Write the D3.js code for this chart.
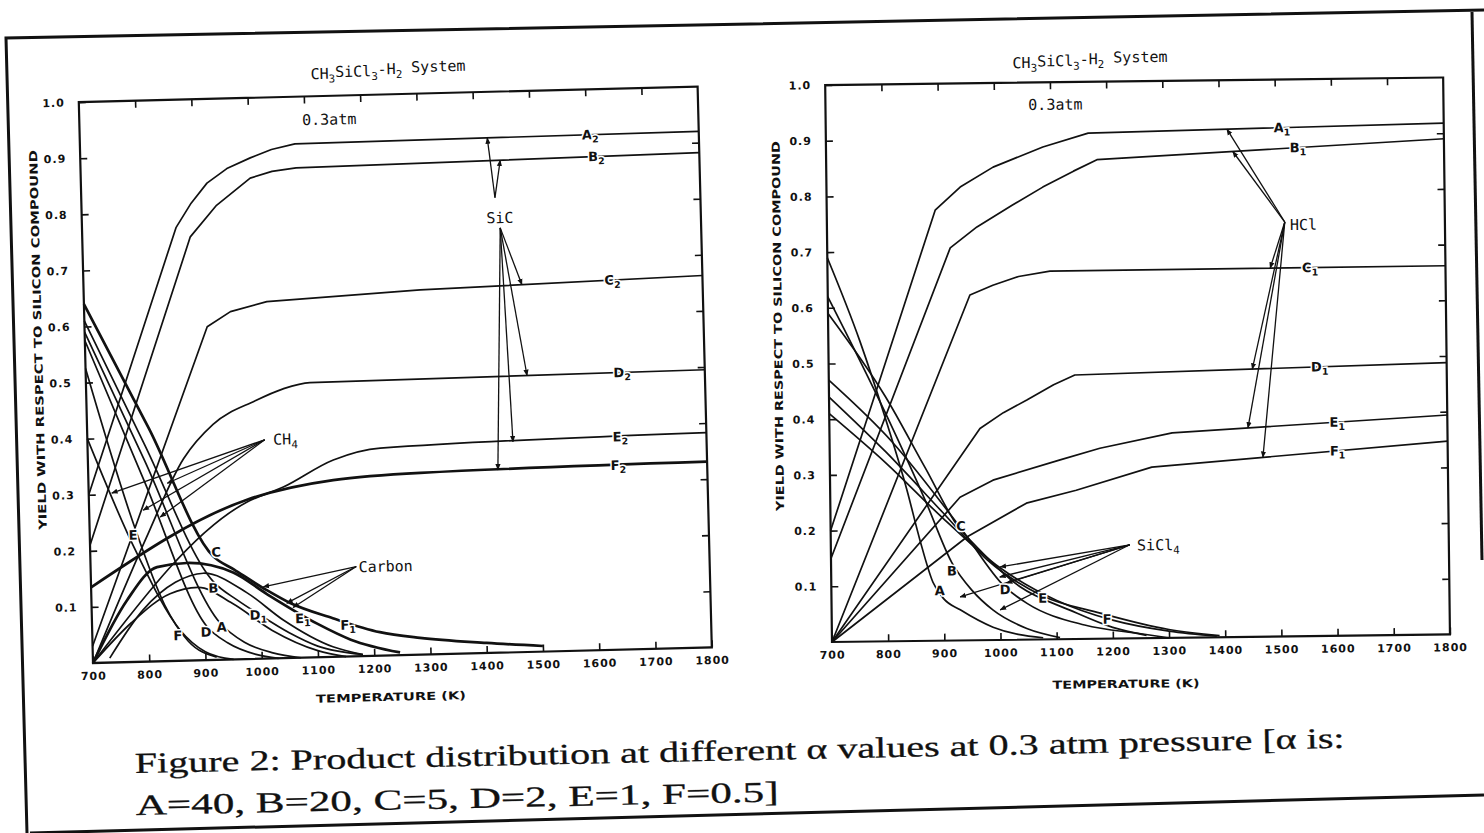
<!DOCTYPE html>
<html>
<head>
<meta charset="utf-8">
<title>Product distribution at 0.3 atm</title>
<script src="https://d3js.org/d3.v7.min.js"></script>
<style>
  body { margin: 0; background: #fff; }
  svg { display: block; }
  .curve { fill: none; stroke: #111; stroke-width: 1.7; stroke-linejoin: round; }
  .thick { stroke-width: 2.7; }
  .frame { fill: none; stroke: #111; stroke-width: 2.2; }
  .border { fill: none; stroke: #111; stroke-width: 3; }
  .ticklabel { font-family: "DejaVu Sans", sans-serif; font-weight: bold; font-size: 11px; fill: #111; letter-spacing: 1px; }
  .axtitle { font-family: "DejaVu Sans", sans-serif; font-weight: bold; font-size: 11px; fill: #111; }
  .note { font-family: "DejaVu Sans Mono", monospace; font-size: 15px; fill: #111; }
  .lab { font-family: "DejaVu Sans", sans-serif; font-weight: bold; font-size: 13px; fill: #111;
         stroke: #fff; stroke-width: 3px; paint-order: stroke; }
  .arrow { stroke: #111; stroke-width: 1.3; fill: none; }
  .caption { font-family: "Liberation Serif", serif; font-size: 29px; fill: #111; stroke: #111; stroke-width: 0.3px; }
</style>
</head>
<body>
<div id="chart"></div>
<script>
// ---- axes
const tempTicks = [700, 800, 900, 1000, 1100, 1200, 1300, 1400, 1500, 1600, 1700, 1800];
const yieldTicks = [0.1, 0.2, 0.3, 0.4, 0.5, 0.6, 0.7, 0.8, 0.9, 1.0];

// ---- left panel: SiC yield (subscript 2), [T (K), yield]
const sicA = [[700, 0.30], [867, 0.772], [895, 0.815], [924, 0.85], [960, 0.875], [1002, 0.893], [1040, 0.907], [1082, 0.916], [1800, 0.92]];
const sicB = [[700, 0.21], [892, 0.755], [940, 0.81], [1001, 0.857], [1040, 0.868], [1083, 0.873], [1800, 0.882]];
const sicC = [[700, 0.03], [918, 0.594], [960, 0.62], [1025, 0.636], [1298, 0.65], [1800, 0.663]];
const sicD = [[700, 0.0], [800, 0.22], [870, 0.36], [924, 0.42], [1000, 0.46], [1050, 0.48], [1098, 0.49], [1800, 0.495]];
const sicE = [[700, 0.0], [981, 0.28], [1046, 0.305], [1136, 0.351], [1220, 0.37], [1800, 0.383]];
const sicF = [[700, 0.135], [981, 0.284], [1135, 0.315], [1290, 0.324], [1800, 0.331]];
// left panel: falling curves
const fallC = [[700, 0.64], [810, 0.415], [918, 0.185], [955, 0.16], [1012, 0.122], [1053, 0.098], [1128, 0.069], [1211, 0.042], [1282, 0.03], [1400, 0.018], [1500, 0.01]];
const fallB = [[700, 0.61], [800, 0.39], [917, 0.14], [960, 0.105], [996, 0.08], [1050, 0.045], [1100, 0.02], [1180, 0.003]];
const fallA = [[700, 0.59], [800, 0.36], [928, 0.065], [970, 0.03], [1020, 0.01], [1070, 0.0]];
const fallD = [[700, 0.575], [800, 0.32], [904, 0.06], [940, 0.03], [990, 0.008], [1030, 0.0]];
const fallE = [[700, 0.525], [777, 0.25], [830, 0.1], [870, 0.035], [920, 0.005]];
const fallF = [[700, 0.40], [780, 0.2], [856, 0.055], [900, 0.015], [950, 0.0]];
// left panel: carbon
const carbon1 = [[700, 0.0], [763, 0.11], [818, 0.168], [871, 0.174], [953, 0.155], [1012, 0.115], [1100, 0.06], [1159, 0.03], [1246, 0.005]];
const carbon2 = [[730, 0.008], [791, 0.092], [850, 0.14], [900, 0.155], [977, 0.118], [1040, 0.068], [1127, 0.018], [1180, 0.003]];
const carbon3 = [[700, 0.0], [770, 0.07], [840, 0.12], [890, 0.13], [950, 0.1], [1020, 0.05], [1100, 0.012], [1150, 0.0]];

// ---- right panel: HCl yield (subscript 1)
const hclA = [[700, 0.20], [893, 0.773], [938, 0.814], [997, 0.849], [1086, 0.884], [1167, 0.908], [1800, 0.918]];
const hclB = [[700, 0.15], [919, 0.705], [967, 0.742], [1030, 0.78], [1085, 0.812], [1140, 0.84], [1182, 0.86], [1800, 0.89]];
const hclC = [[700, 0.0], [953, 0.62], [994, 0.637], [1040, 0.652], [1096, 0.661], [1800, 0.662]];
const hclD = [[700, 0.0], [968, 0.38], [1010, 0.408], [1052, 0.43], [1100, 0.457], [1138, 0.474], [1800, 0.488]];
const hclE = [[700, 0.0], [931, 0.257], [990, 0.287], [1110, 0.322], [1181, 0.342], [1310, 0.368], [1800, 0.394]];
const hclF = [[700, 0.0], [943, 0.186], [1049, 0.245], [1138, 0.267], [1273, 0.307], [1800, 0.347]];
// right panel: falling curves
const rA = [[700, 0.69], [756, 0.54], [800, 0.40], [837, 0.27], [859, 0.18], [881, 0.105], [900, 0.075], [929, 0.055], [987, 0.023], [1076, 0.003]];
const rB = [[700, 0.62], [800, 0.41], [870, 0.25], [915, 0.14], [950, 0.09], [987, 0.054], [1047, 0.02], [1106, 0.003]];
const rC = [[700, 0.59], [800, 0.44], [870, 0.31], [930, 0.2], [948, 0.18], [1036, 0.095], [1124, 0.052], [1200, 0.02], [1260, 0.005]];
const rD = [[700, 0.47], [813, 0.356], [930, 0.204], [1009, 0.095], [1048, 0.065], [1150, 0.025], [1250, 0.008], [1300, 0.0]];
const rE = [[700, 0.44], [800, 0.34], [900, 0.23], [978, 0.144], [1076, 0.078], [1178, 0.046], [1300, 0.015], [1390, 0.003]];
const rF = [[700, 0.41], [800, 0.32], [900, 0.22], [1000, 0.13], [1100, 0.07], [1200, 0.033], [1300, 0.012], [1385, 0.002]];

function interp(c, t) {
  for (let i = 1; i < c.length; i++) {
    if (t <= c[i][0]) {
      const [t0, y0] = c[i - 1], [t1, y1] = c[i];
      return y0 + (y1 - y0) * (t - t0) / (t1 - t0);
    }
  }
  return c[c.length - 1][1];
}
const on = (c, t) => [t, interp(c, t)];

const panels = [
  {
    xr: [93, 712], yr: [663, 102], angle: -1.45,
    curves: [
      { d: sicA, lin: true, end: ["A", "2", 1607] }, { d: sicB, lin: true, end: ["B", "2", 1617] },
      { d: sicC, lin: true, end: ["C", "2", 1640] }, { d: sicD, end: ["D", "2", 1653] },
      { d: sicE, end: ["E", "2", 1647] }, { d: sicF, thick: true, end: ["F", "2", 1642] },
      { d: fallC, thick: true }, { d: fallB }, { d: fallA }, { d: fallD }, { d: fallE }, { d: fallF },
      { d: carbon1, thick: true }, { d: carbon2 }, { d: carbon3 }
    ],
    letters: [["E", "", 777, 0.226], ["C", "", 924, 0.192], ["B", "", 917, 0.128], ["F", "", 852, 0.045],
              ["D", "", 902, 0.05], ["A", "", 930, 0.058], ["D", "1", 996, 0.078], ["E", "1", 1075, 0.07], ["F", "1", 1155, 0.056]],
    notes: [["0.3atm", "", 1096, 0.958, "start"], ["SiC", "", 1443, 0.775, "middle"], ["CH", "4", 1030, 0.39, "start"], ["Carbon", "", 1176, 0.159, "start"]],
    arrows: [
      [[1435, 0.811], on(sicA, 1424)], [[1435, 0.811], on(sicB, 1446)],
      [[1443, 0.757], on(sicC, 1479)], [[1443, 0.757], on(sicD, 1484)],
      [[1443, 0.757], on(sicE, 1456)], [[1443, 0.757], on(sicF, 1428)],
      [[1015, 0.39], [741, 0.302]], [[1015, 0.39], [840, 0.317]], [[1015, 0.39], [796, 0.27]], [[1015, 0.39], [826, 0.257]],
      [[1172, 0.16], [1006, 0.128]], [[1172, 0.16], [1047, 0.098]], [[1172, 0.16], [1058, 0.09]]
    ]
  },
  {
    xr: [832, 1450], yr: [642, 85], angle: -0.7,
    curves: [
      { d: hclA, lin: true, end: ["A", "1", 1512] }, { d: hclB, lin: true, end: ["B", "1", 1540] },
      { d: hclC, lin: true, end: ["C", "1", 1559] }, { d: hclD, lin: true, end: ["D", "1", 1574] },
      { d: hclE, lin: true, end: ["E", "1", 1604] }, { d: hclF, lin: true, end: ["F", "1", 1604] },
      { d: rA }, { d: rB }, { d: rC }, { d: rD }, { d: rE }, { d: rF }
    ],
    letters: [["A", "", 893, 0.09], ["B", "", 915, 0.125], ["C", "", 932, 0.205], ["D", "", 1009, 0.09],
              ["E", "", 1076, 0.074], ["F", "", 1190, 0.035]],
    notes: [["0.3atm", "", 1061, 0.96, "start"], ["HCl", "", 1524, 0.739, "start"], ["SiCl", "4", 1245, 0.167, "start"]],
    arrows: [
      [[1515, 0.744], on(hclA, 1414)], [[1515, 0.744], on(hclB, 1424)], [[1515, 0.744], on(hclC, 1488)],
      [[1515, 0.744], on(hclD, 1454)], [[1515, 0.744], on(hclE, 1445)], [[1515, 0.744], on(hclF, 1471)],
      [[1232, 0.168], [1001, 0.131]], [[1232, 0.168], [1000, 0.113]], [[1232, 0.168], [1012, 0.102]],
      [[1232, 0.168], [929, 0.078]], [[1232, 0.168], [1000, 0.054]]
    ]
  }
];

const svg = d3.select("#chart").append("svg").attr("width", 1484).attr("height", 833);

svg.append("defs").append("marker")
  .attr("id", "head").attr("viewBox", "0 0 10 10").attr("refX", 9).attr("refY", 5)
  .attr("markerWidth", 5).attr("markerHeight", 5).attr("orient", "auto")
  .append("path").attr("d", "M0,1 L10,5 L0,9 Z").attr("fill", "#111");

function addSub(text, main, sub) {
  text.append("tspan").text(main);
  if (sub) text.append("tspan").attr("font-size", "0.72em").attr("dy", "0.35em").text(sub);
}

function drawPanel(p) {
  const x = d3.scaleLinear().domain([700, 1800]).range(p.xr);
  const y = d3.scaleLinear().domain([0, 1]).range(p.yr);
  const g = svg.append("g").attr("transform", `rotate(${p.angle},${p.xr[0]},${p.yr[0]})`).style("color", "#111");

  const smooth = d3.line().x(d => x(d[0])).y(d => y(d[1])).curve(d3.curveMonotoneX);
  const poly = d3.line().x(d => x(d[0])).y(d => y(d[1]));
  g.selectAll("path.curve").data(p.curves).join("path")
    .attr("class", d => "curve" + (d.thick ? " thick" : ""))
    .attr("d", d => (d.lin ? poly : smooth)(d.d));

  // frame and inward ticks
  g.append("rect").attr("class", "frame")
    .attr("x", p.xr[0]).attr("y", p.yr[1]).attr("width", p.xr[1] - p.xr[0]).attr("height", p.yr[0] - p.yr[1]);

  const bottom = g.append("g").attr("transform", `translate(0,${p.yr[0]})`)
    .call(d3.axisBottom(x).tickValues(tempTicks).tickSize(-7).tickPadding(9).tickFormat(d3.format("d")));
  const top = g.append("g").attr("transform", `translate(0,${p.yr[1]})`)
    .call(d3.axisTop(x).tickValues(tempTicks.slice(1, -1)).tickSize(-7).tickFormat(""));
  const left = g.append("g").attr("transform", `translate(${p.xr[0]},0)`)
    .call(d3.axisLeft(y).tickValues(yieldTicks).tickSize(-7).tickPadding(14).tickFormat(d3.format(".1f")));
  const right = g.append("g").attr("transform", `translate(${p.xr[1]},0)`)
    .call(d3.axisRight(y).tickValues(yieldTicks.slice(0, -1)).tickSize(-7).tickFormat(""));
  [bottom, top, left, right].forEach(a => {
    a.select(".domain").remove();
    a.selectAll(".tick line").attr("stroke-width", 1.6);
    a.selectAll("text").attr("class", "ticklabel");
  });

  // arrows
  g.selectAll("line.arrow").data(p.arrows).join("line").attr("class", "arrow")
    .attr("x1", d => x(d[0][0])).attr("y1", d => y(d[0][1]))
    .attr("x2", d => x(d[1][0])).attr("y2", d => y(d[1][1]))
    .attr("marker-end", "url(#head)");

  // curve-end labels, drawn on the line with a white gap
  p.curves.filter(c => c.end).forEach(c => {
    const t = c.end[2];
    const tx = g.append("text").attr("class", "lab").attr("text-anchor", "middle")
      .attr("x", x(t)).attr("y", y(interp(c.d, t))).attr("dy", "0.35em");
    addSub(tx, c.end[0], c.end[1]);
  });
  p.letters.forEach(l => {
    const tx = g.append("text").attr("class", "lab").attr("text-anchor", "middle")
      .attr("x", x(l[2])).attr("y", y(l[3])).attr("dy", "0.35em");
    addSub(tx, l[0], l[1]);
  });
  p.notes.forEach(n => {
    const tx = g.append("text").attr("class", "note").attr("text-anchor", n[4])
      .attr("x", x(n[2])).attr("y", y(n[3])).attr("dy", "0.35em");
    addSub(tx, n[0], n[1]);
  });
}
panels.forEach(drawPanel);

// panel titles and axis titles
function title(px, py, ang) {
  const t = svg.append("text").attr("class", "note").attr("text-anchor", "middle")
    .attr("transform", `translate(${px},${py}) rotate(${ang})`).attr("dy", "0.35em");
  t.append("tspan").text("CH");
  t.append("tspan").attr("font-size", "0.72em").attr("dy", "0.35em").text("3");
  t.append("tspan").attr("dy", "-0.35em").text("SiCl");
  t.append("tspan").attr("font-size", "0.72em").attr("dy", "0.35em").text("3");
  t.append("tspan").attr("dy", "-0.35em").text("-H");
  t.append("tspan").attr("font-size", "0.72em").attr("dy", "0.35em").text("2");
  t.append("tspan").attr("dy", "-0.35em").text(" System");
}
title(388, 72, -1.45);
title(1090, 62, -0.7);

function axTitle(txt, px, py, ang, len) {
  svg.append("text").attr("class", "axtitle").attr("text-anchor", "middle")
    .attr("transform", `translate(${px},${py}) rotate(${ang})`).attr("dy", "0.35em")
    .attr("textLength", len).attr("lengthAdjust", "spacingAndGlyphs").text(txt);
}
axTitle("YIELD WITH RESPECT TO SILICON COMPOUND", 38, 340, -91.45, 380);
axTitle("YIELD WITH RESPECT TO SILICON COMPOUND", 778, 326, -90.7, 370);
axTitle("TEMPERATURE (K)", 391, 697, -1.45, 150);
axTitle("TEMPERATURE (K)", 1126, 684, -0.7, 147);

// scanned page frame
svg.append("path").attr("class", "border").attr("d", "M27,833 L6,38 L1484,10");
svg.append("path").attr("class", "border").attr("d", "M1472,12 L1482,560");
svg.append("path").attr("class", "border").attr("d", "M30,833 L1484,795");

// caption
const cap = svg.append("g").attr("transform", "rotate(-1.2,135,773)");
cap.append("text").attr("class", "caption").attr("x", 135).attr("y", 773)
  .attr("textLength", 1210).attr("lengthAdjust", "spacingAndGlyphs")
  .text("Figure 2: Product distribution at different \u03b1 values at 0.3 atm pressure [\u03b1 is:");
cap.append("text").attr("class", "caption").attr("x", 135).attr("y", 815)
  .attr("textLength", 643).attr("lengthAdjust", "spacingAndGlyphs")
  .text("A=40, B=20, C=5, D=2, E=1, F=0.5]");
</script>
</body>
</html>
